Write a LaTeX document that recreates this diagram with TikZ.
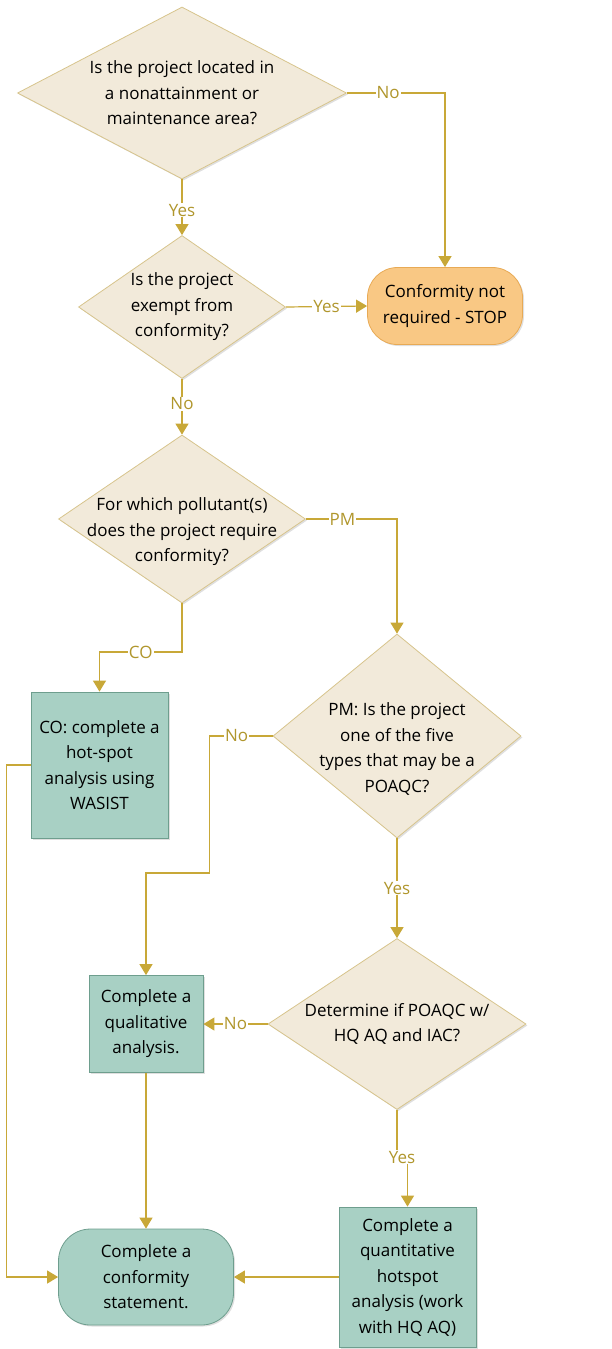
\documentclass[tikz,border=0pt]{standalone}
\usepackage{fontspec}
\setmainfont{Open Sans}
\definecolor{beigefill}{RGB}{242,234,218}
\definecolor{beigeline}{RGB}{215,196,140}
\definecolor{tealfill}{RGB}{168,208,196}
\definecolor{tealline}{RGB}{110,158,142}
\definecolor{orangefill}{RGB}{249,200,132}
\definecolor{orangeline}{RGB}{232,170,85}
\definecolor{goldline}{RGB}{200,168,56}
\definecolor{goldtext}{RGB}{176,150,44}
\usetikzlibrary{shapes.geometric,arrows.meta,shadows}

\begin{document}
\begin{tikzpicture}[x=1pt,y=-1pt,font=\fontsize{17}{25.5}\selectfont]

%
% Styles
%
\tikzstyle{shade}    = [drop shadow={shadow xshift=1.5pt,shadow yshift=-1.5pt,opacity=0.25,fill=black!50}]
\tikzstyle{decision} = [diamond,draw=beigeline,fill=beigefill,thick,inner sep=0pt,shade]
\tikzstyle{qtext}    = [align=center,text=black]
\tikzstyle{process}  = [rectangle,draw=tealline,fill=tealfill,thick,inner sep=0pt,align=center,text=black,shade]
\tikzstyle{terminal} = [rectangle,rounded corners=32pt,draw=tealline,fill=tealfill,thick,inner sep=0pt,align=center,text=black,shade]
\tikzstyle{stopnode} = [terminal,rounded corners=30pt,draw=orangeline,fill=orangefill]
\tikzstyle{line}     = [draw=goldline,line width=1.2pt]
\tikzstyle{flow}     = [line,-{Triangle[length=11pt,width=13pt]}]
\tikzstyle{lbl}      = [fill=white,text=goldtext,inner sep=1pt]

\useasboundingbox (0,0) rectangle (611,1349);

\node[decision,minimum width=329,minimum height=172,
      label={[qtext]center:Is the project located in\\a nonattainment or\\maintenance area?}] (d1) at (182,93) {};
\node[decision,minimum width=207,minimum height=143,
      label={[qtext]center:Is the project\\exempt from\\conformity?}] (d2) at (182,307) {};
\node[stopnode,minimum width=155,minimum height=77] (stop) at (445,306) {Conformity not\\required - STOP};
\node[decision,minimum width=247,minimum height=168,
      label={[qtext,yshift=-13pt]center:For which pollutant(s)\\does the project require\\conformity?}] (d3) at (182,519) {};
\node[process,minimum width=137,minimum height=146] (co) at (99.5,765) {CO: complete a\\hot-spot\\analysis using\\WASIST};
\node[decision,minimum width=248,minimum height=204,
      label={[qtext,yshift=-13pt]center:PM: Is the project\\one of the five\\types that may be a\\POAQC?}] (d4) at (397,736) {};
\node[process,minimum width=114,minimum height=97] (qual) at (146,1024) {Complete a\\qualitative\\analysis.};
\node[decision,minimum width=258,minimum height=171,
      label={[qtext]center:Determine if POAQC w/\\HQ AQ and IAC?}] (d5) at (397,1024) {};
\node[process,minimum width=137,minimum height=140] (quant) at (407.5,1277) {Complete a\\quantitative\\hotspot\\analysis (work\\with HQ AQ)};
\node[terminal,minimum width=175,minimum height=96] (conf) at (146,1277) {Complete a\\conformity\\statement.};
\node[lbl] (yq) at (402,1157) {Yes};

\draw[flow] (d1.east) -| node[lbl,pos=0.21] {No} (stop.north);
\draw[flow] (d1.south) -- node[lbl,pos=0.55] {Yes} (d2.north);
\draw[flow] (d2.east) -- node[lbl] {Yes} (stop.west);
\draw[flow] (d2.south) -- node[lbl,pos=0.45] {No} (d3.north);
\draw[flow] (d3.east) -| node[lbl,pos=0.2] {PM} (d4.north);
\draw[flow] (d3.south) -- (d3.south |- 0,652) -| node[lbl,pos=0.25] {CO} (co.north);
\draw[flow] (d4.west) -- node[lbl,pos=0.57] {No} ++(-63,0) |- (qual.north |- 0,873) -- (qual.north);
\draw[flow] (d4.south) -- node[lbl] {Yes} (d5.north);
\draw[flow] (d5.west) -- node[lbl] {No} (qual.east);
\draw[line] (d5.south) -- (d5.south |- yq.north);
\draw[flow] (quant.north |- yq.south) -- (quant.north);
\draw[flow] (qual.south) -- (conf.north);
\draw[flow] (quant.west) -- (conf.east);
\draw[flow] (co.west) -- ++(-24,0) |- (conf.west);

\end{tikzpicture}
\end{document}
